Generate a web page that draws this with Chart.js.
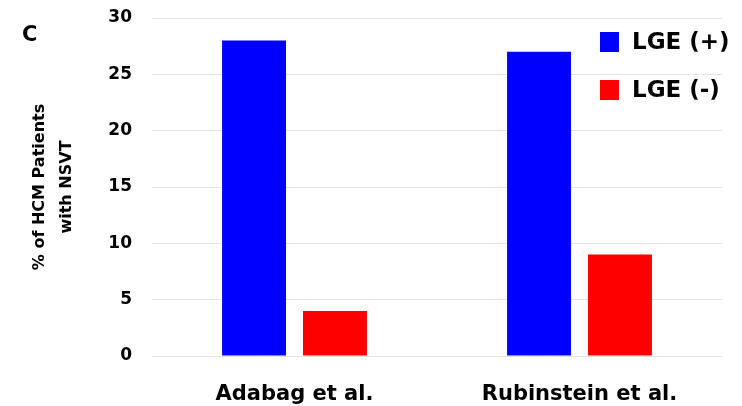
<!DOCTYPE html>
<html>
<head>
<meta charset="utf-8">
<script src="https://cdn.jsdelivr.net/npm/chart.js@4/dist/chart.umd.min.js"></script>
<style>
  html, body { margin: 0; padding: 0; background: #ffffff; }
  #wrap { width: 742px; height: 406px; }
</style>
</head>
<body>
<div id="wrap"><canvas id="c" width="742" height="406"></canvas></div>
<script>
// Studies compared
const studies = ['Adabag et al.', 'Rubinstein et al.'];
// % of HCM patients with NSVT
const lgePositive = [28, 27];
const lgeNegative = [4, 9];
// y-axis tick values
const yTicks = [0, 5, 10, 15, 20, 25, 30];

const FONT = "'DejaVu Sans', 'Liberation Sans', Arial, sans-serif";

// Panel letter and the legend drawn inside the plot area
const panelDecor = {
  id: 'panelDecor',
  afterDraw(chart) {
    const ctx = chart.ctx;
    ctx.save();
    ctx.fillStyle = '#000';
    ctx.font = 'bold 21px ' + FONT;
    ctx.textAlign = 'left';
    ctx.textBaseline = 'middle';
    ctx.fillText('C', 22, 36);

    const x = 600, y0 = 32, step = 48, box = 20;
    chart.data.datasets.forEach((ds, i) => {
      const y = y0 + i * step;
      ctx.fillStyle = ds.backgroundColor;
      ctx.fillRect(x, y, 19, box);
      ctx.fillStyle = '#000';
      ctx.font = 'bold 23px ' + FONT;
      ctx.textBaseline = 'middle';
      ctx.fillText(ds.label, x + 32, y + box / 2 + 1);
    });
    ctx.restore();
  }
};

new Chart(document.getElementById('c'), {
  type: 'bar',
  data: {
    labels: studies,
    datasets: [
      { label: 'LGE (+)', data: lgePositive, backgroundColor: '#0000ff' },
      { label: 'LGE (-)', data: lgeNegative, backgroundColor: '#ff0000' }
    ]
  },
  options: {
    responsive: false,
    animation: false,
    layout: { padding: { top: 18, right: 20, left: 0, bottom: 0 } },
    datasets: {
      bar: { categoryPercentage: 0.568, barPercentage: 0.79 }
    },
    plugins: {
      legend: { display: false },
      tooltip: { enabled: false }
    },
    scales: {
      x: {
        grid: { display: false, drawTicks: false },
        border: { display: false },
        ticks: {
          color: '#000',
          padding: 26,
          font: { family: FONT, size: 21, weight: 'bold' }
        },
        afterFit(scale) { scale.height = 50; scale.paddingTop = 0; }
      },
      y: {
        min: 0,
        max: 30,
        afterBuildTicks(scale) { scale.ticks = yTicks.map(v => ({ value: v })); },
        grid: { color: '#e4e4e4', lineWidth: 1, drawTicks: false },
        border: { display: false },
        ticks: {
          color: '#000',
          padding: 20,
          font: { family: FONT, size: 17, weight: 'bold' }
        },
        title: {
          display: true,
          text: ['% of HCM Patients', 'with NSVT'],
          color: '#000',
          font: { family: FONT, size: 16, weight: 'bold', lineHeight: 1.7 },
          padding: { top: 26, bottom: 0 }
        },
        afterFit(scale) { scale.width = 152; scale.paddingTop = 0; scale.paddingBottom = 0; }
      }
    }
  },
  plugins: [panelDecor]
});
</script>
</body>
</html>
